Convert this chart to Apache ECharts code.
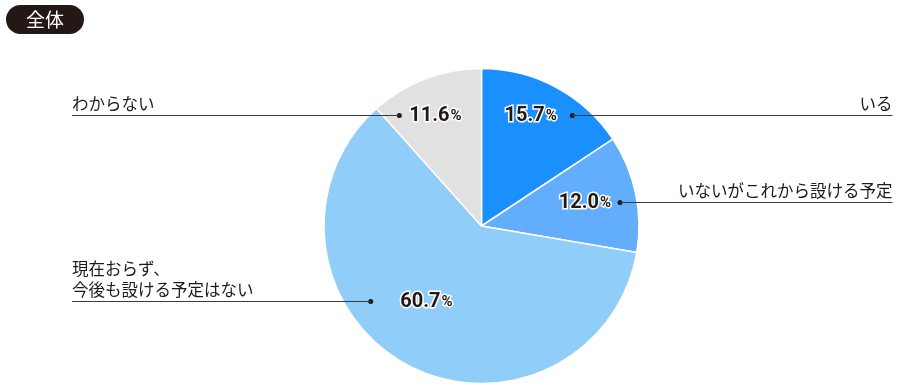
<!DOCTYPE html>
<html><head><meta charset="utf-8">
<script src="https://cdn.jsdelivr.net/npm/echarts@6/dist/echarts.min.js"></script>
<style>html,body{margin:0;padding:0;background:#fff}#c{width:900px;height:391px}</style>
</head><body><div id="c"></div>
<script>
const TITLE = '全体';
const CATEGORIES = ['いる', 'いないがこれから設ける予定', '現在おらず、\n今後も設ける予定はない', 'わからない'];
const VALUES = [15.7, 12.0, 60.7, 11.6];
const COLORS = ['#1a90ff', '#62adfc', '#90cdf8', '#e1e1e1'];

// label placement (style only): leader dot position and which side the name sits on
const DOTS = [[572.3, 115, 'right'], [620, 202, 'right'], [370.7, 301, 'left'], [399.3, 115, 'left']];
const GAPS = [13, 6.5, 27, 7.5];
const LEFT_EDGE = 72, RIGHT_EDGE = 892.5;
const INK = '#231815', LINE = '#3e3a39';

const data = CATEGORIES.map((n, i) => ({ name: n, value: VALUES[i], itemStyle: { color: COLORS[i] } }));

const rich = {
  v: { fontFamily: 'Roboto', fontWeight: 'bold', fontSize: 20, color: INK, textBorderColor: '#fff', textBorderWidth: 3 },
  p: { fontFamily: 'Roboto', fontWeight: 'bold', fontSize: 15, color: INK, textBorderColor: '#fff', textBorderWidth: 3, verticalAlign: 'bottom', padding: [0, 0, 2, 1] },
  d: { width: 5, height: 5, borderRadius: 2.5, backgroundColor: INK }
};
GAPS.forEach((g, i) => { rich['g' + i] = { width: g }; });

const chart = echarts.init(document.getElementById('c'), null, { renderer: 'canvas' });
chart.setOption({
  animation: false,
  title: {
    text: TITLE, left: 6, top: 5,
    backgroundColor: INK, borderRadius: 15, padding: [5, 20],
    textStyle: { color: '#fff', fontSize: 19, fontWeight: 'normal', fontFamily: 'Noto Sans CJK JP' }
  },
  series: [
    {
      type: 'pie', z: 2, center: [481.5, 226], radius: [0, 157.5], startAngle: 90, clockwise: true,
      data: data,
      itemStyle: { borderColor: '#fff', borderWidth: 1.5 },
      emphasis: { disabled: true },
      silent: true,
      label: {
        show: true, position: 'inside',
        formatter: p => {
          const v = p.value.toFixed(1);
          const i = p.dataIndex;
          return DOTS[i][2] === 'right' ? `{v|${v}}{p|%}{g${i}|}{d|}` : `{d|}{g${i}|}{v|${v}}{p|%}`;
        },
        rich: rich
      },
      labelLine: { show: false },
      labelLayout: p => {
        const d = DOTS[p.dataIndex];
        const right = d[2] === 'right';
        return { x: right ? d[0] + 2.5 : d[0] - 2.5, y: d[1] + 0.5, align: right ? 'right' : 'left', verticalAlign: 'middle' };
      }
    },
    {
      type: 'pie', z: 3, center: [481.5, 226], radius: [0, 157.5], startAngle: 90, clockwise: true,
      data: CATEGORIES.map((n, i) => ({ name: n, value: VALUES[i] })),
      itemStyle: { color: 'rgba(0,0,0,0)', borderWidth: 0 },
      emphasis: { disabled: true },
      silent: true,
      avoidLabelOverlap: false,
      label: {
        show: true, position: 'outside', formatter: '{b}',
        color: INK, fontSize: 16.5, lineHeight: 21, fontFamily: 'Noto Sans CJK JP'
      },
      labelLine: { show: true, length: 10, length2: 10, lineStyle: { color: LINE, width: 1 } },
      labelLayout: p => {
        const d = DOTS[p.dataIndex];
        const right = d[2] === 'right';
        const ex = right ? RIGHT_EDGE : LEFT_EDGE;
        return {
          x: ex, y: d[1] - 1, align: right ? 'right' : 'left', verticalAlign: 'bottom',
          labelLinePoints: [[d[0], d[1] + 0.5], [ex, d[1] + 0.5]]
        };
      }
    }
  ]
});
</script>
</body></html>
